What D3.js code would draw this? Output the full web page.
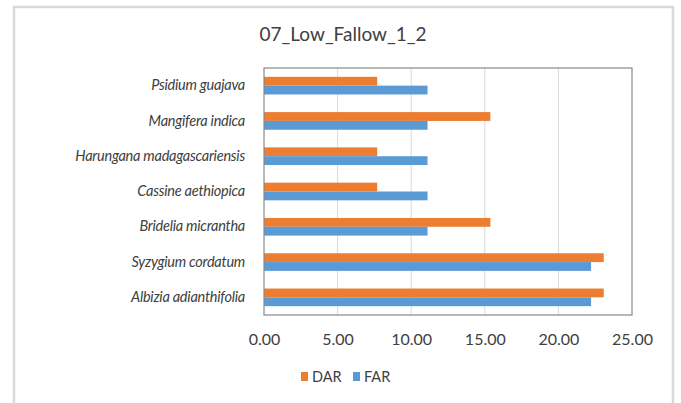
<!DOCTYPE html>
<html>
<head>
<meta charset="utf-8">
<script src="https://cdn.jsdelivr.net/npm/d3@7"></script>
<style>
  body { margin: 0; background: #fff; }
  text { font-family: Lato, "Open Sans", sans-serif; fill: #404040; }
</style>
</head>
<body>
<div class="chart"></div>
<script>
// species, bottom to top as in the sheet
var species = ['Albizia adianthifolia', 'Syzygium cordatum', 'Bridelia micrantha',
  'Cassine aethiopica', 'Harungana madagascariensis', 'Mangifera indica', 'Psidium guajava'];
var dar = [23.08, 23.08, 15.38, 7.69, 7.69, 15.38, 7.69];
var far = [22.22, 22.22, 11.11, 11.11, 11.11, 11.11, 11.11];
var seriesNames = ['DAR', 'FAR'];
var seriesColors = ['#ED7D31', '#5B9BD5'];
var xTicks = [0, 5, 10, 15, 20, 25];

var fullWidth = 681, fullHeight = 403;
var plot = {left: 264, right: 632, top: 68, bottom: 315};

var svg = d3.select('.chart').append('svg')
  .attr('width', fullWidth)
  .attr('height', fullHeight);

// chart area border
svg.append('rect')
  .attr('x', 14).attr('y', 7)
  .attr('width', 659).attr('height', 420)
  .attr('fill', '#fff')
  .attr('stroke', '#d9d9d9')
  .attr('stroke-width', 2.5);

svg.append('text')
  .attr('x', 343).attr('y', 41)
  .attr('text-anchor', 'middle')
  .style('font-size', '19px')
  .text('07_Low_Fallow_1_2');

var rows = species.map(function(s, i) {
  return {name: s, DAR: dar[i], FAR: far[i]};
});

var xScale = d3.scaleLinear()
  .domain([0, 25])
  .range([plot.left, plot.right]);

var yScale = d3.scaleBand()
  .domain(species.slice().reverse())
  .range([plot.top, plot.bottom])
  .paddingInner(0.5)
  .paddingOuter(0.25);

var subScale = d3.scaleBand()
  .domain(seriesNames)
  .range([0, yScale.bandwidth()]);

var color = d3.scaleOrdinal().domain(seriesNames).range(seriesColors);

// gridlines
svg.append('g')
  .selectAll('line')
  .data(xTicks.slice(1, -1))
  .enter().append('line')
    .attr('x1', function(d) { return xScale(d); })
    .attr('x2', function(d) { return xScale(d); })
    .attr('y1', plot.top)
    .attr('y2', plot.bottom)
    .attr('stroke', '#d9d9d9')
    .attr('stroke-width', 1);

// bars
var groups = svg.append('g')
  .selectAll('g')
  .data(rows)
  .enter().append('g')
    .attr('transform', function(d) { return 'translate(0,' + yScale(d.name) + ')'; });

groups.selectAll('rect')
  .data(function(d) { return seriesNames.map(function(k) { return {key: k, value: d[k]}; }); })
  .enter().append('rect')
    .attr('x', xScale(0))
    .attr('y', function(d) { return subScale(d.key); })
    .attr('width', function(d) { return xScale(d.value) - xScale(0); })
    .attr('height', subScale.bandwidth())
    .attr('fill', function(d) { return color(d.key); });

// plot frame
svg.append('rect')
  .attr('x', plot.left).attr('y', plot.top)
  .attr('width', plot.right - plot.left)
  .attr('height', plot.bottom - plot.top)
  .attr('fill', 'none')
  .attr('stroke', '#888')
  .attr('stroke-width', 1.2);

// x axis labels
var xAxis = d3.axisBottom(xScale)
  .tickValues(xTicks)
  .tickSize(0)
  .tickPadding(0)
  .tickFormat(d3.format('.2f'));

var xAxisEle = svg.append('g')
  .attr('transform', 'translate(0,' + (plot.bottom + 30) + ')')
  .call(xAxis);
xAxisEle.select('.domain').remove();
xAxisEle.selectAll('text')
  .attr('dy', 0)
  .attr('y', 0)
  .style('font-size', '16px')
  .style('font-family', 'Lato, sans-serif')
  .attr('fill', '#404040');

// y axis labels
var yAxis = d3.axisLeft(yScale)
  .tickSize(0)
  .tickPadding(19);

var yAxisEle = svg.append('g')
  .attr('transform', 'translate(' + plot.left + ',0)')
  .call(yAxis);
yAxisEle.select('.domain').remove();
yAxisEle.selectAll('text')
  .style('font-size', '14.5px')
  .style('letter-spacing', '-0.25px')
  .style('font-style', 'italic')
  .style('font-family', 'Lato, sans-serif')
  .attr('fill', '#404040');

// legend
var legendX = [301, 353];
var legend = svg.append('g')
  .selectAll('g')
  .data(seriesNames)
  .enter().append('g')
    .attr('transform', function(d, i) { return 'translate(' + legendX[i] + ',372)'; });
legend.append('rect')
  .attr('width', 7).attr('height', 9)
  .attr('fill', function(d) { return color(d); });
legend.append('text')
  .attr('x', 11).attr('y', 10)
  .style('font-size', '14.5px')
  .text(function(d) { return d; });
</script>
</body>
</html>
